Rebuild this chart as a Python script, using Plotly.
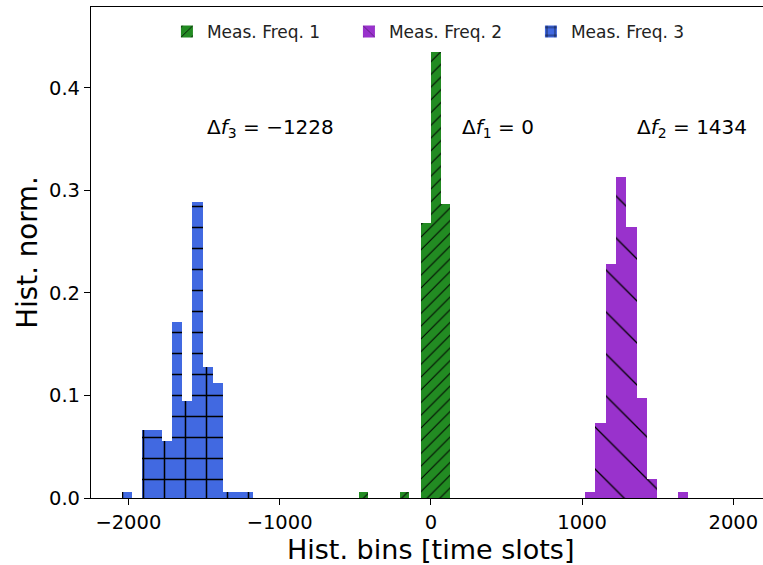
import plotly.graph_objects as go

# ---- data ----
green_centers = [-446, -175, -32, 32, 96]
green_values = [0.006, 0.006, 0.2684, 0.4352, 0.2867]
green_width = 64

purple_centers = [1054, 1122, 1190, 1258, 1326, 1394, 1462, 1666]
purple_values = [0.006, 0.0728, 0.2281, 0.3127, 0.2648, 0.0972, 0.0184, 0.006]
purple_width = 68

blue_centers = [-2011.5, -1877.5, -1810.5, -1743.5, -1676.5, -1609.5,
                -1542.5, -1475.5, -1408.5, -1341.5, -1274.5, -1207.5]
blue_values = [0.006, 0.0662, 0.0662, 0.0558, 0.1714, 0.0948,
               0.2883, 0.1275, 0.1118, 0.006, 0.006, 0.006]
blue_width = 67

series_names = ["Meas. Freq. 1", "Meas. Freq. 2", "Meas. Freq. 3"]
annot_labels = ["Δ<i>f</i><sub>3</sub> = −1228", "Δ<i>f</i><sub>1</sub> = 0",
                "Δ<i>f</i><sub>2</sub> = 1434"]
annot_x = [-1492, 194, 1350]
annot_y = 0.361
x_ticks = [-2000, -1000, 0, 1000, 2000]
y_ticks = [0.0, 0.1, 0.2, 0.3, 0.4]

FONT = "DejaVu Sans"

fig = go.Figure()
fig.add_trace(go.Bar(
    x=green_centers, y=green_values, width=green_width, name=series_names[0],
    marker=dict(color="#228B22", line=dict(width=0),
                pattern=dict(shape="/", size=9, solidity=0.11, fgcolor="black",
                             bgcolor="#228B22", fillmode="replace")),
))
fig.add_trace(go.Bar(
    x=purple_centers, y=purple_values, width=purple_width, name=series_names[1],
    marker=dict(color="#9932CC", line=dict(width=0),
                pattern=dict(shape="\\", size=29.7, solidity=0.045, fgcolor="black",
                             bgcolor="#9932CC", fillmode="replace")),
))
fig.add_trace(go.Bar(
    x=blue_centers, y=blue_values, width=blue_width, name=series_names[2],
    marker=dict(color="#4169E1", line=dict(width=0),
                pattern=dict(shape="+", size=21, solidity=0.14, fgcolor="black",
                             bgcolor="#4169E1", fillmode="replace")),
))

for txt, xv in zip(annot_labels, annot_x):
    fig.add_annotation(x=xv, y=annot_y, xref="x", yref="y", text=txt,
                       showarrow=False, xanchor="left", yanchor="middle",
                       font=dict(family=FONT, size=20, color="black"))

fig.add_annotation(x=0, y=-0.104, xref="x", yref="paper",
                   text="Hist. bins [time slots]", showarrow=False,
                   xanchor="center", yanchor="middle", borderpad=0,
                   font=dict(family=FONT, size=27, color="black"))

fig.add_annotation(x=-0.095, y=0.5, xref="paper", yref="paper",
                   text="Hist. norm.", showarrow=False, textangle=-90,
                   xanchor="center", yanchor="middle",
                   font=dict(family=FONT, size=27.7, color="black"))

fig.update_layout(
    width=763, height=565,
    margin=dict(l=91, r=0, t=7, b=67),
    paper_bgcolor="white", plot_bgcolor="white",
    barmode="overlay", bargap=0,
    font=dict(family=FONT, size=18, color="black"),
    showlegend=True,
    legend=dict(orientation="h", x=0.113, y=0.986, xanchor="left", yanchor="top",
                bgcolor="rgba(0,0,0,0)", font=dict(family=FONT, size=17, color="#222"),
                entrywidth=137, entrywidthmode="pixels", itemsizing="constant"),
    xaxis=dict(range=[-2247, 2196], tickvals=x_ticks, showgrid=False, zeroline=False,
               showline=True, mirror=True, linecolor="black", linewidth=1.2,
               ticks="outside", ticklen=6, tickcolor="black", tickwidth=1.2,
               tickfont=dict(family=FONT, size=19.5, color="black")),
    yaxis=dict(range=[0, 0.479], tickvals=y_ticks, tickformat=".1f", showgrid=False,
               zeroline=False, showline=True, mirror=False, linecolor="black",
               linewidth=1.2, ticks="outside", ticklen=6, tickcolor="black", tickwidth=1.2,
               tickfont=dict(family=FONT, size=19.5, color="black")),
)

fig.write_html("out.html")
